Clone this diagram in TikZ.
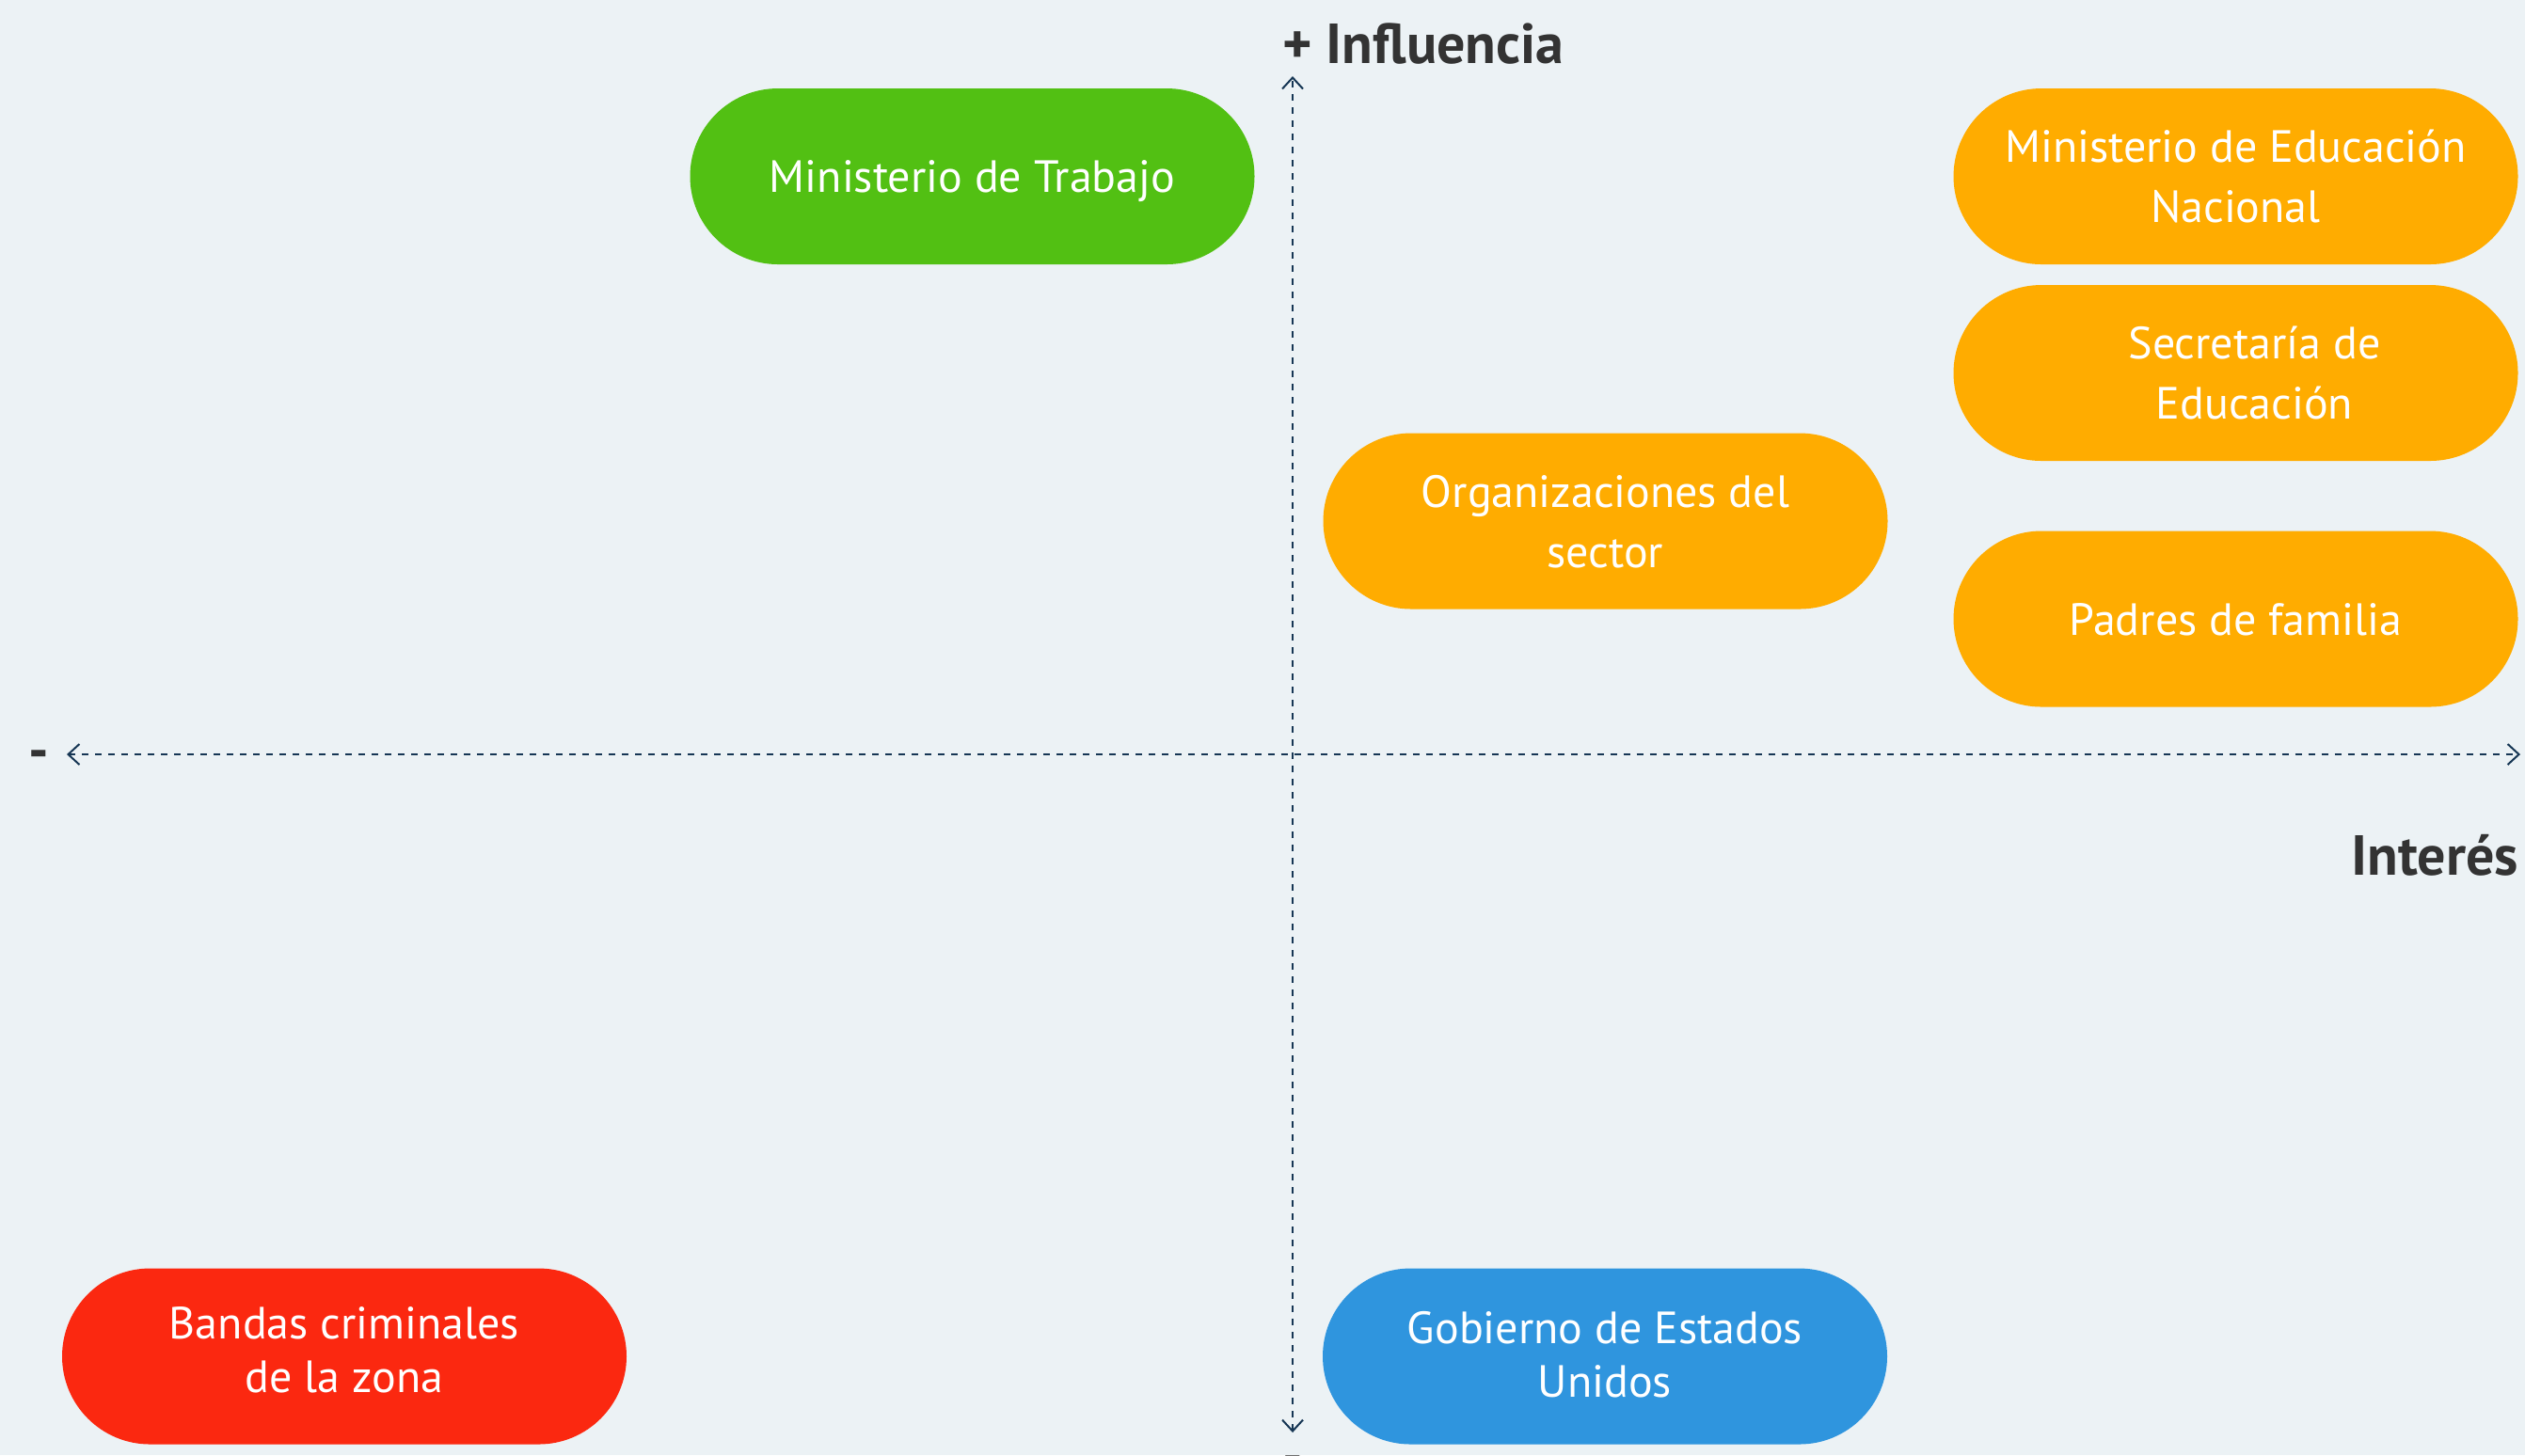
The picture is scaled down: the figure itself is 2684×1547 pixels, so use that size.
\documentclass[tikz,border=0pt]{standalone}
\usepackage{fontspec}
\setmainfont{PT Sans}
\usetikzlibrary{arrows.meta}

\definecolor{fondo}{RGB}{236,242,245}
\definecolor{verde}{RGB}{82,192,19}
\definecolor{naranja}{RGB}{255,172,0}
\definecolor{rojo}{RGB}{251,40,16}
\definecolor{azul}{RGB}{47,149,222}
\definecolor{azulEje}{RGB}{22,54,84}
\definecolor{gristexto}{RGB}{51,51,51}

\tikzset{every picture/.style={line width=0.5pt}}
\tikzset{
  actor/.style={rounded corners=23.375pt, minimum width=150pt, minimum height=46.75pt, inner sep=0pt,
    text=white, align=center, text depth=0pt, font=\fontsize{12}{16}\selectfont},
  actorbajo/.style={actor, font=\fontsize{12}{14.25}\selectfont},
  eje/.style={draw=azulEje, dash pattern=on 1.75pt off 1.75pt,
    {Straight Barb[length=3pt,width=5.5pt]}-{Straight Barb[length=3pt,width=5.5pt]}},
  rotulo/.style={text=gristexto, inner sep=0pt, font=\fontsize{15}{18}\selectfont\bfseries}
}

\begin{document}
\begin{tikzpicture}[x=0.25pt,y=0.25pt,yscale=-1]
%Background
\fill[fondo] (0,0) rectangle (2684,1547);
\clip (0,0) rectangle (2684,1547);

%Axes end points
\coordinate (arriba) at (1374,81);
\coordinate (abajo) at (1374,1523);
\coordinate (izq) at (71,802);
\coordinate (der) at (2679,802);

%Straight Lines: Influencia
\draw[eje] (abajo) -- (arriba);
%Straight Lines: Interes
\draw[eje] (izq) -- (der);

%Shape: Pill
\node[actor, fill=verde] (trabajo) at (1033.5,187.5) {Ministerio de Trabajo};
%Shape: Pill
\node[actor, fill=naranja] (educacion) at (2376.5,187.5) {Ministerio de Educación\\Nacional};
%Shape: Pill
\node[actor, fill=naranja] (secretaria) at (2376.5,396.5) {\hspace*{10pt}Secretaría de\\\hspace*{10pt}Educación};
%Shape: Pill
\node[actor, fill=naranja] (organizaciones) at (1706.5,554) {Organizaciones del\\sector};
%Shape: Pill
\node[actor, fill=naranja] (padres) at (2376.5,658) {Padres de familia};
%Shape: Pill
\node[actorbajo, fill=rojo, text depth=3.75pt] (bandas) at (366,1442) {Bandas criminales\\de la zona};
%Shape: Pill
\node[actorbajo, fill=azul, text depth=1.25pt] (gobierno) at (1706,1442) {Gobierno de Estados\\Unidos};

% Text Node
\node[rotulo, anchor=base west] (influencia) at (1362,67) {+ Influencia};
% Text Node
\node[rotulo, anchor=base east] (interes) at (2678,930) {Interés};
% Text Node
\node[rotulo, anchor=base west] (menosx) at (30,818) {-};
% Text Node
\node[rotulo, anchor=base] (menosy) at (1374.5,1568) {-};

\end{tikzpicture}
\end{document}
